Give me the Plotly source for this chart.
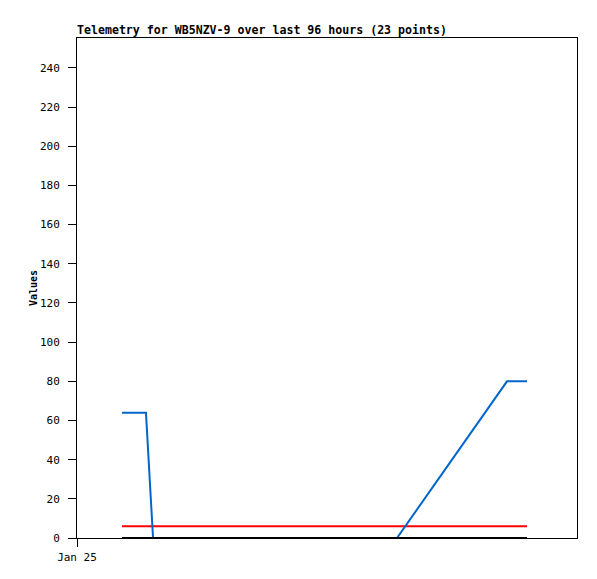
import plotly.graph_objects as go
import datetime as dt

# times as hours after Jan 25 00:00
blue_t = [2.16, 3.31, 3.65, 15.36, 20.64, 21.6]
blue_v = [64, 64, 0, 0, 80, 80]
red_t = [2.16, 21.6]
red_v = [6, 6]
black_t = [2.16, 21.6]
black_v = [0, 0]

base = dt.datetime(2024, 1, 25)
def ts(h):
    return [base + dt.timedelta(hours=x) for x in h]

font = "DejaVu Sans Mono"
W, H = 589, 571  # page body has an 8px margin
L, R, T, B = 69, 20, 30, 41
fig = go.Figure()
fig.add_trace(go.Scatter(x=ts(red_t), y=red_v, mode="lines", line=dict(color="#ff0000", width=2)))
fig.add_trace(go.Scatter(x=ts(blue_t), y=blue_v, mode="lines", line=dict(color="#0066cc", width=2)))
fig.add_trace(go.Scatter(x=ts(black_t), y=black_v, mode="lines", line=dict(color="#000000", width=2)))

fig.add_annotation(text="<b>Values</b>", textangle=-90, xref="paper", yref="paper",
                   x=(25 - L) / (W - L - R), y=0.5, showarrow=False,
                   xanchor="center", yanchor="middle",
                   font=dict(family=font, size=10, color="black"))

fig.update_layout(
    width=W, height=H,
    margin=dict(l=L, r=R, t=T, b=B),
    paper_bgcolor="white", plot_bgcolor="white",
    showlegend=False,
    font=dict(family=font, size=11, color="black"),
    title=dict(text="<b>Telemetry for WB5NZV-9 over last 96 hours (23 points)</b>",
               x=L/W, xanchor="left", y=1-26/H, yanchor="bottom",
               font=dict(family=font, size=11.6, color="black")),
    xaxis=dict(range=[base, base + dt.timedelta(hours=24)],
               tickvals=[base], ticktext=["Jan 25"], automargin=False,
               showline=True, linecolor="black", linewidth=1, mirror=True,
               ticks="outside", ticklen=8, tickcolor="black", ticklabelstandoff=1,
               showgrid=False, zeroline=False),
    yaxis=dict(range=[0, 255.3], tickvals=list(range(0, 241, 20)), automargin=False,
               showline=True, linecolor="black", linewidth=1, mirror=True,
               ticks="outside", ticklen=8, tickcolor="black", ticklabelstandoff=6,
               showgrid=False, zeroline=False),
)
fig.write_html("out.html")
